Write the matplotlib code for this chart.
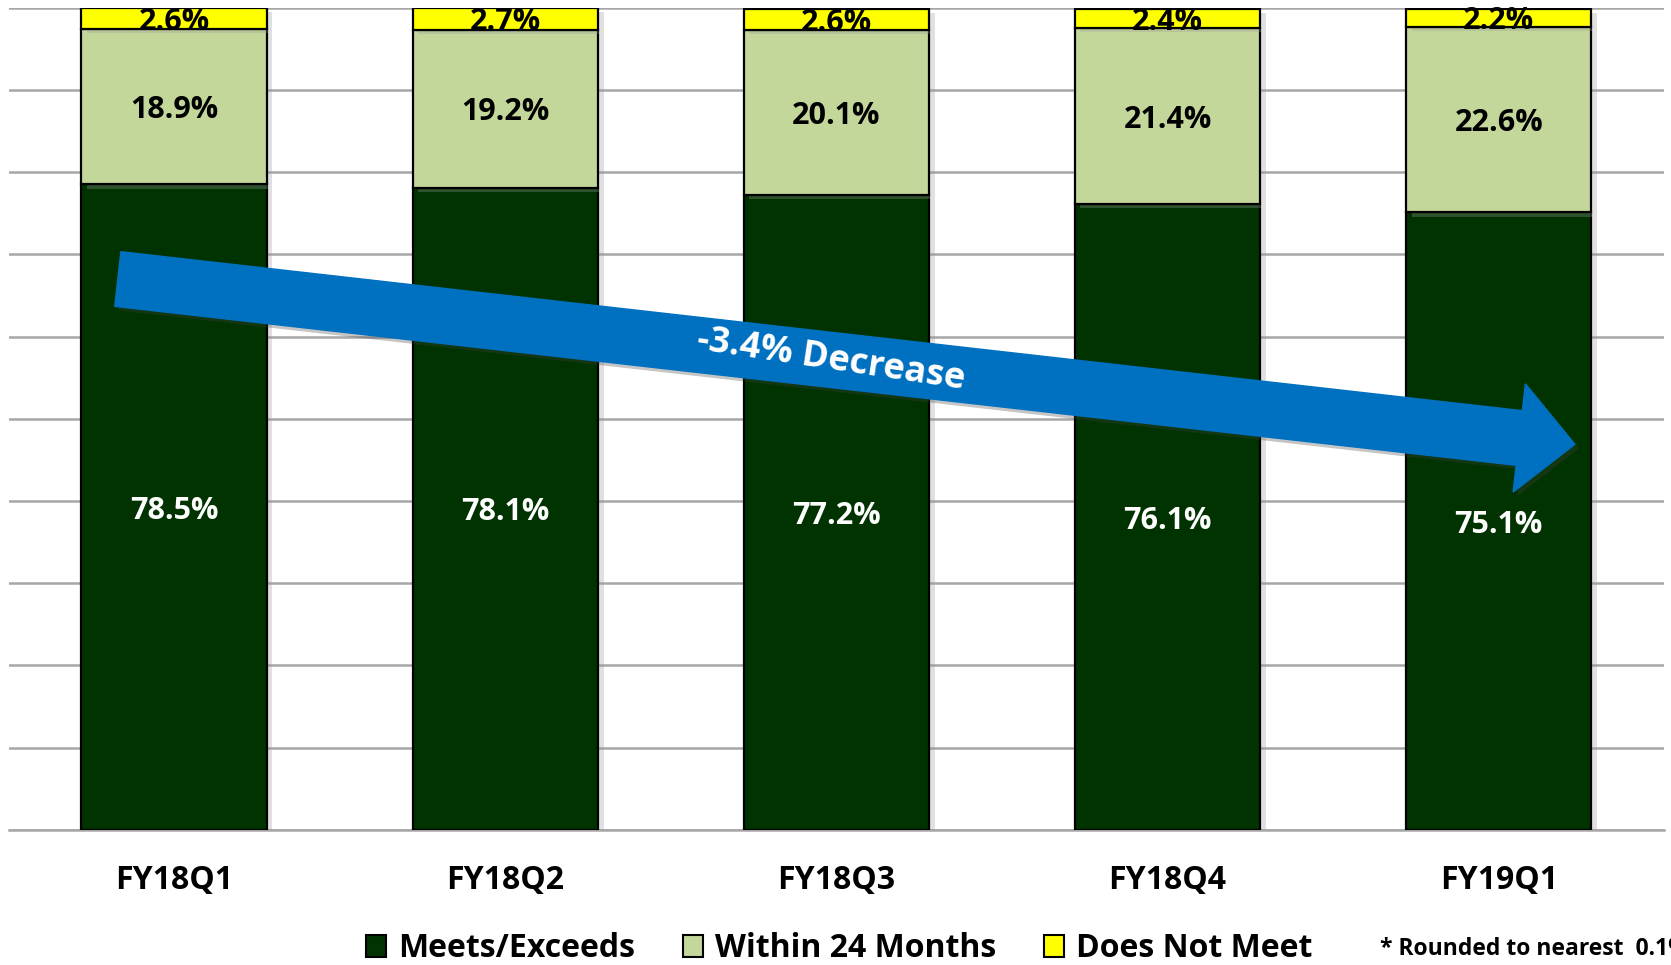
import numpy as np
import matplotlib
matplotlib.use('Agg')
import matplotlib.pyplot as plt
import matplotlib.patches as mpatches
import matplotlib.patheffects as pe

plt.rcParams['font.family'] = ['Open Sans', 'DejaVu Sans']

# data (percent of total, rounded to 0.1)
quarters = ['FY18Q1', 'FY18Q2', 'FY18Q3', 'FY18Q4', 'FY19Q1']
meets = [78.5, 78.1, 77.2, 76.1, 75.1]
within = [18.9, 19.2, 20.1, 21.4, 22.6]
not_meet = [2.6, 2.7, 2.6, 2.4, 2.2]
series_names = ['Meets/Exceeds', 'Within 24 Months', 'Does Not Meet']
trend_label = '-3.4% Decrease'
note = '* Rounded to nearest  0.1%'

colors = ['#003300', '#C4D79B', '#FFFF00']

fig = plt.figure(figsize=(16.71, 9.65), dpi=100)
ax = fig.add_axes([0.0051, 0.140, 0.9909, 0.852])

x = np.arange(len(quarters))
w = 0.56
meets = np.array(meets)
within = np.array(within)
not_meet = np.array(not_meet)

shadow = [pe.SimplePatchShadow(offset=(4, -3), shadow_rgbFace='#9a9a9a', alpha=0.3), pe.Normal()]
b1 = ax.bar(x, meets, w, color=colors[0], edgecolor='black', lw=1.6, zorder=3)
b2 = ax.bar(x, within, w, bottom=meets, color=colors[1], edgecolor='black', lw=1.6, zorder=3)
b3 = ax.bar(x, not_meet, w, bottom=meets + within, color=colors[2], edgecolor='black', lw=1.6, zorder=3)
for bars in (b1, b2, b3):
    for p in bars:
        p.set_path_effects(shadow)

lbl = dict(ha='center', va='center_baseline', fontsize=22, fontweight='bold', zorder=5)
for i in range(len(quarters)):
    ax.text(x[i], meets[i] / 2, f'{meets[i]:.1f}%', color='white', **lbl)
    ax.text(x[i], meets[i] + within[i] / 2, f'{within[i]:.1f}%', color='black', **lbl)
    t = ax.text(x[i], meets[i] + within[i] + not_meet[i] / 2, f'{not_meet[i]:.1f}%',
                color='black', **lbl)
    t.set_clip_path(b3[i])

ax.set_xlim(-0.5, len(quarters) - 0.5)
ax.set_ylim(0, 100)
ax.set_yticks(np.arange(0, 101, 10))
ax.yaxis.grid(True, color='#a6a6a6', lw=1.8)
ax.set_axisbelow(True)
for s in ['left', 'right', 'top']:
    ax.spines[s].set_visible(False)
ax.spines['bottom'].set_color('#a6a6a6')
ax.spines['bottom'].set_linewidth(1.8)
ax.set_xticks(x)
ax.set_xticklabels(quarters, fontsize=23, fontweight='bold')
ax.tick_params(left=False, labelleft=False, bottom=False, pad=21)

# trend arrow, anchored in data coordinates
fig.canvas.draw()
p0 = ax.transData.transform((-0.17, 67.0)) / fig.dpi
p1 = ax.transData.transform((4.23, 46.9)) / fig.dpi
arrow = mpatches.FancyArrow(p0[0], p0[1], p1[0] - p0[0], p1[1] - p0[1], width=0.55,
                            head_width=1.09, head_length=0.56, length_includes_head=True,
                            transform=fig.dpi_scale_trans, color='#0070C0', zorder=4)
arrow.set_path_effects([pe.SimplePatchShadow(offset=(3, -3), shadow_rgbFace='#404040', alpha=0.3),
                        pe.Normal()])
fig.add_artist(arrow)
fig.text(8.31, 6.05, trend_label, transform=fig.dpi_scale_trans, color='white', fontsize=26,
         fontweight='bold', ha='center', va='center', rotation=-8.5, rotation_mode='anchor', zorder=5)

handles = [mpatches.Patch(facecolor=c, edgecolor='black', lw=1.5) for c in colors]
fig.legend(handles, series_names, loc='center', bbox_to_anchor=(0.502, 0.017), ncol=3,
           frameon=False, handlelength=0.65, handleheight=0.65, handletextpad=0.35,
           columnspacing=1.5, prop={'size': 23, 'weight': 'bold'})
fig.text(0.826, 0.017, note, fontsize=16.5, fontweight='bold', va='center', ha='left')

fig.savefig('out.png', dpi=100)
